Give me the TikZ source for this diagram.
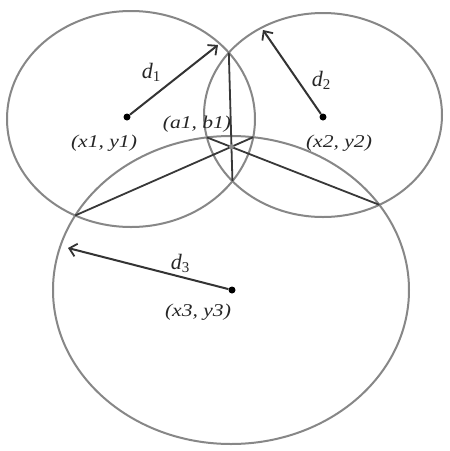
\documentclass[tikz,border=0pt]{standalone}
\usepackage{fontspec}
\setmainfont{Liberation Serif}
\usetikzlibrary{intersections,arrows.meta}
\newcommand\mywide[1]{\scalebox{1.2}[1]{#1}}
\begin{document}
\begin{tikzpicture}[x=1pt,y=-1pt,
  ring/.style={draw=black!47,line width=2pt},
  chord/.style={draw=black!78,line width=1.8pt},
  radius arrow/.style={draw=black!80,line width=2pt,-{Straight Barb[length=7pt,width=13pt,line width=1.8pt]}},
  ctr/.style={circle,fill=black,inner sep=0pt,minimum size=7pt},
  lbl/.style={font=\fontsize{18}{20}\selectfont\itshape,text=black!85,inner sep=0pt},
  dl/.style={font=\fontsize{22}{24}\selectfont\itshape,text=black!85,inner sep=0pt}]
\useasboundingbox (0,0) rectangle (450,451);
\fill[white] (0,0) rectangle (450,451);
\path[ring,name path=c1] (131,119) ellipse [x radius=124,y radius=108];
\path[ring,name path=c2] (323,115) ellipse [x radius=119,y radius=102];
\path[ring,name path=c3] (231,290) ellipse [x radius=178,y radius=154];
\path[name intersections={of=c1 and c2,name=i12}];
\path[name intersections={of=c1 and c3,name=i13}];
\path[name intersections={of=c2 and c3,name=i23}];
\draw[chord,name path=k12] (i12-1) -- (i12-2);
\draw[chord,name path=k13] (i13-1) -- (i13-2);
\draw[chord] (i23-1) -- (i23-2);
\path[name intersections={of=k12 and k13,name=rc}];
\node[circle,fill=black!45,inner sep=0pt,minimum size=5pt] (a) at (rc-1) {};
\node[ctr] (p1) at (127,117) {};
\node[ctr] (p2) at (323,117) {};
\node[ctr] (p3) at (232,290) {};
\coordinate (t1) at (218,45);
\coordinate (t2) at (263,30);
\coordinate (t3) at (68,248);
\draw[radius arrow] (p1) -- (t1);
\draw[radius arrow] (p2) -- (t2);
\draw[radius arrow] (p3) -- (t3);
\node[dl] (l1) at (151,72) {d\raisebox{-0.3ex}{\fontsize{15}{17}\selectfont\upshape 1}};
\node[dl] (l2) at (321,80) {d\raisebox{-0.3ex}{\fontsize{15}{17}\selectfont\upshape 2}};
\node[dl] (l3) at (180,263) {d\raisebox{-0.3ex}{\fontsize{15}{17}\selectfont\upshape 3}};
\node[lbl] (n1) at (104,143) {\mywide{(x1, y1)}};
\node[lbl] (n2) at (339,143) {\mywide{(x2, y2)}};
\node[lbl] (n3) at (198,312) {\mywide{(x3, y3)}};
\node[lbl] (na) at (197,124) {\mywide{(a1, b1)}};
\end{tikzpicture}
\end{document}
